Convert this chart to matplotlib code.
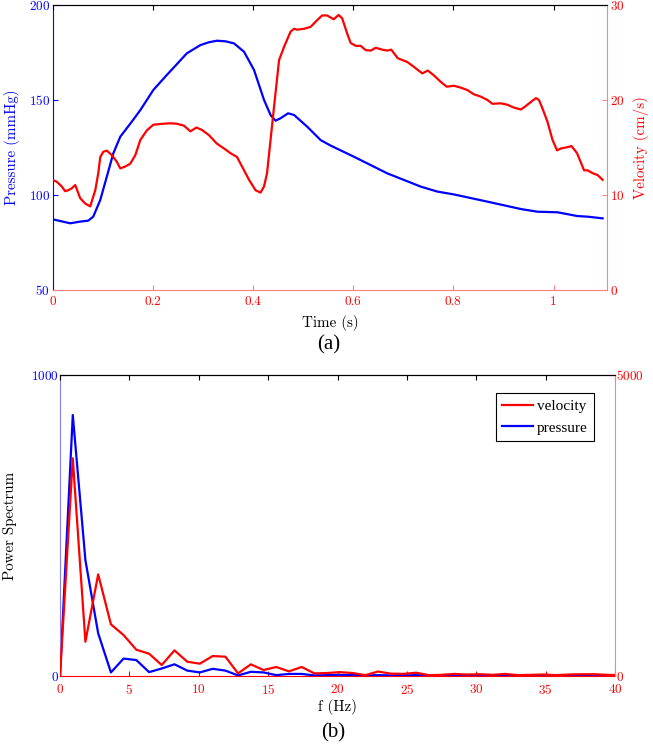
import matplotlib
matplotlib.use("Agg")
import matplotlib.pyplot as plt

# (a) waveforms over one cardiac cycle
t_p = [0, 0.035, 0.055, 0.071, 0.081, 0.095, 0.108, 0.121, 0.135, 0.158, 0.175,
       0.201, 0.228, 0.268, 0.295, 0.312, 0.328, 0.345, 0.362, 0.382, 0.402,
       0.422, 0.435, 0.445, 0.455, 0.470, 0.482, 0.508, 0.535, 0.555, 0.601,
       0.668, 0.735, 0.768, 0.801, 0.868, 0.935, 0.968, 1.008, 1.048, 1.068,
       1.098]
pressure = [87.2, 85.1, 86.0, 86.5, 88.6, 97.4, 109.6, 121.9, 130.7, 138.6, 144.7,
            155.3, 163.2, 174.6, 178.9, 180.4, 181.2, 180.9, 179.8, 175.4, 165.8,
            150.0, 142.1, 139.1, 140.4, 143.0, 142.1, 136.0, 128.9, 126.0, 120.2,
            111.4, 104.4, 101.8, 100.3, 96.5, 92.6, 91.2, 90.9, 88.9, 88.6,
            87.7]

t_v = [0, 0.008, 0.018, 0.025, 0.031, 0.038, 0.045, 0.055, 0.065, 0.075, 0.085,
       0.091, 0.095, 0.101, 0.108, 0.118, 0.128, 0.135, 0.145, 0.155, 0.165,
       0.175, 0.188, 0.201, 0.221, 0.235, 0.248, 0.262, 0.275, 0.287, 0.298,
       0.312, 0.328, 0.342, 0.355, 0.368, 0.378, 0.392, 0.405, 0.415, 0.422,
       0.428, 0.435, 0.442, 0.452, 0.462, 0.475, 0.482, 0.488, 0.502, 0.515,
       0.528, 0.538, 0.548, 0.561, 0.571, 0.578, 0.588, 0.595, 0.605, 0.615,
       0.625, 0.635, 0.645, 0.658, 0.668, 0.676, 0.689, 0.708, 0.721, 0.738,
       0.749, 0.761, 0.775, 0.787, 0.801, 0.815, 0.828, 0.841, 0.855, 0.868,
       0.878, 0.895, 0.908, 0.921, 0.935, 0.943, 0.955, 0.965, 0.971, 0.978,
       0.988, 0.998, 1.007, 1.015, 1.025, 1.036, 1.047, 1.061, 1.068, 1.078,
       1.088, 1.098]
velocity = [11.58, 11.4, 10.9, 10.4, 10.5, 10.7, 11.05, 9.65, 9.1, 8.8, 10.5,
            12.3, 14.0, 14.55, 14.67, 14.2, 13.5, 12.8, 13.0, 13.3, 14.2,
            15.8, 16.8, 17.4, 17.5, 17.55, 17.5, 17.3, 16.7, 17.1, 16.85,
            16.3, 15.4, 14.9, 14.4, 14.0, 13.0, 11.6, 10.5, 10.25, 10.9,
            12.3, 15.8, 19.3, 24.2, 25.6, 27.2, 27.5, 27.4, 27.5, 27.7,
            28.4, 28.9, 28.9, 28.5, 28.95, 28.6, 27.0, 26.0, 25.7, 25.7,
            25.25, 25.2, 25.5, 25.3, 25.2, 25.3, 24.4, 24.0, 23.5, 22.8,
            23.1, 22.6, 21.9, 21.4, 21.5, 21.3, 21.05, 20.6, 20.35, 20.0,
            19.6, 19.65, 19.5, 19.2, 19.0, 19.3, 19.8, 20.2, 20.0, 19.1,
            17.7, 15.8, 14.7, 14.9, 15.0, 15.15, 14.4, 12.6, 12.6, 12.3,
            12.1, 11.6]

# (b) power spectra
freq = [0, 0.92, 1.83, 2.75, 3.67, 4.58, 5.5, 6.42, 7.33, 8.25, 9.17, 10.08,
        11.0, 11.92, 12.83, 13.75, 14.67, 15.58, 16.5, 17.42, 18.33, 19.25,
        20.17, 21.08, 22.0, 22.92, 23.83, 24.75, 25.67, 26.58, 27.5, 28.42,
        29.33, 30.25, 31.17, 32.08, 33.0, 33.92, 34.83, 35.75, 36.67, 37.58,
        38.5, 39.42, 40.33]
ps_pressure = [0, 867, 385, 142, 12, 58, 53, 13, 25, 39, 18, 12, 24, 18, 2, 14,
               12, 3, 7, 7, 2, 3, 4, 3, 2, 3, 2, 2, 3, 1, 2, 2, 2, 2, 1, 2, 1,
               1, 2, 1, 1, 2, 2, 1, 1]
ps_velocity = [0, 3616, 570, 1689, 858, 681, 437, 371, 183, 426, 238, 205, 332,
               321, 44, 194, 100, 150, 78, 150, 44, 50, 65, 50, 15, 75, 40, 35,
               55, 15, 20, 35, 25, 30, 20, 35, 15, 20, 25, 15, 25, 30, 30, 20, 15]

plt.rcParams["font.family"] = "serif"
plt.rcParams["font.serif"] = ["cmr10"]
plt.rcParams["axes.formatter.use_mathtext"] = True
plt.rcParams["font.size"] = 10.8
plt.rcParams["xtick.labelsize"] = 9.5
plt.rcParams["ytick.labelsize"] = 9.5

BLUE = "#0000ff"
RED = "#ff0000"
LBLUE = "#8080ff"
LRED = "#ff8080"

fig = plt.figure(figsize=(6.53, 7.47), dpi=100)

# ---- top panel
ax1 = fig.add_axes([0.0807, 0.6118, 0.849, 0.3815])
ax2 = ax1.twinx()
ax1.plot(t_p, pressure, color=BLUE, lw=1.6)
ax2.plot(t_v, velocity, color=RED, lw=1.6)
ax1.set_xlim(0, 1.107)
ax1.set_ylim(50, 200)
ax2.set_ylim(0, 30)
ax1.set_xticks([0, 0.2, 0.4, 0.6, 0.8, 1.0])
ax1.set_xticklabels(["0", "0.2", "0.4", "0.6", "0.8", "1"])
ax1.set_yticks([50, 100, 150, 200])
ax2.set_yticks([0, 10, 20, 30])
ax1.tick_params(axis="x", direction="in", color=LRED, labelcolor=RED, pad=4)
ax1.tick_params(axis="y", direction="in", color=BLUE, labelcolor=BLUE, pad=2)
ax2.tick_params(axis="y", direction="in", color=LRED, labelcolor=RED, pad=2)
ax2.xaxis.set_visible(True)
ax2.tick_params(axis="x", bottom=False, labelbottom=False, top=True,
                direction="in", color="black")
for s in ["left", "right", "bottom"]:
    ax2.spines[s].set_visible(False)
ax1.spines["right"].set_visible(False)
ax2.spines["right"].set_visible(True)
ax2.spines["right"].set_color(LRED)
ax1.spines["left"].set_color(BLUE)
ax1.spines["bottom"].set_color(LRED)
ax2.spines["top"].set_color("black")
ax1.set_ylabel("Pressure (mmHg)", color=BLUE, labelpad=6)
ax2.set_ylabel("Velocity (cm/s)", color=RED, labelpad=6)
ax1.set_xlabel("Time (s)", labelpad=5)
fig.text(0.503, 0.538, "(a)", family="Liberation Serif", fontsize=15,
         ha="center", va="center")

# ---- bottom panel
bx1 = fig.add_axes([0.0919, 0.095, 0.85, 0.403])
bx2 = bx1.twinx()
bx2.plot(freq, ps_velocity, color=RED, lw=1.6, label="velocity")
bx1.plot(freq, ps_pressure, color=BLUE, lw=1.6, label="pressure")
bx1.set_xlim(0, 40)
bx1.set_ylim(0, 1000)
bx2.set_ylim(0, 5000)
bx1.set_xticks(range(0, 41, 5))
bx1.set_yticks([0, 1000])
bx2.set_yticks([0, 5000])
bx1.tick_params(axis="x", direction="in", color=RED, labelcolor=RED, pad=5)
bx1.tick_params(axis="y", direction="in", color=BLUE, labelcolor=BLUE, pad=1)
bx2.tick_params(axis="y", direction="in", color=RED, labelcolor=RED, pad=1)
bx2.xaxis.set_visible(True)
bx2.tick_params(axis="x", bottom=False, labelbottom=False, top=True,
                direction="in", color="black")
for s in ["left", "right", "bottom"]:
    bx2.spines[s].set_visible(False)
bx1.spines["right"].set_visible(False)
bx2.spines["right"].set_visible(True)
bx2.spines["right"].set_color(LRED)
bx1.spines["left"].set_color(LBLUE)
bx1.spines["bottom"].set_color(RED)
bx2.spines["top"].set_color("black")
bx1.set_ylabel("Power Spectrum", labelpad=10)
bx1.set_xlabel("f (Hz)", labelpad=1.5)
h1, l1 = bx2.get_legend_handles_labels()
h2, l2 = bx1.get_legend_handles_labels()
leg = bx2.legend(h1 + h2, l1 + l2, loc="upper right",
                 bbox_to_anchor=(0.976, 0.964), fancybox=False,
                 edgecolor="black", framealpha=1,
                 prop={"family": "Liberation Serif", "size": 11},
                 handlelength=2.0, handletextpad=0.3, borderpad=0.4,
                 labelspacing=0.5)
leg.get_frame().set_linewidth(0.8)
fig.text(0.511, 0.019, "(b)", family="Liberation Serif", fontsize=15,
         ha="center", va="center")

fig.savefig("out.png", dpi=100)
